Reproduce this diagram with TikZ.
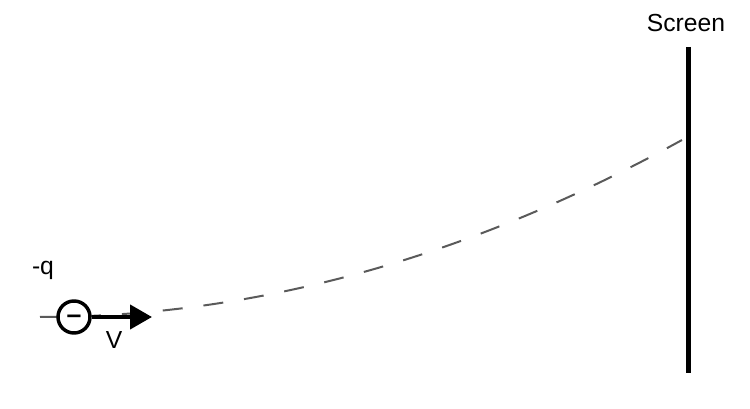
\documentclass[tikz,border=0pt]{standalone}
\usepackage{fontspec}
\setmainfont{Liberation Sans}
\usetikzlibrary{arrows.meta}
\definecolor{pathgray}{RGB}{90,90,90}
\tikzset{
  lbl/.style={font=\fontsize{18.5}{22}\selectfont},
  charge/.style={circle, draw=black, fill=white, line width=2.6pt, inner sep=0pt,
    minimum size=24pt, text height=10.4pt, text depth=0pt,
    font=\fontsize{20}{22}\selectfont\bfseries},
  track/.style={pathgray, line width=1.5pt, dash pattern=on 15pt off 15.75pt}
}

\begin{document}
\begin{tikzpicture}[x=0.75pt, y=-0.75pt]
\useasboundingbox (0,0) rectangle (750,409);
% path of the charge
\coordinate (start) at (40,317);
\coordinate (hit) at (682,140);
\draw[track] (start) .. controls (254,317) and (468,258) .. (hit);
% charge and velocity
\node[charge] (q) at (74,317) {–};
\coordinate (tip) at (152,317);
\draw[line width=3.2pt, -{Triangle[length=16.5pt, width=18pt]}] (q) -- (tip);
\node[lbl] (qlbl) at (43,270) {-q};
\node[lbl] (vlbl) at (114,340) {V};
% screen
\coordinate (scrtop) at (688,47);
\coordinate (scrbot) at (688,373);
\draw[line width=3.75pt] (scrtop) -- (scrbot);
\node[lbl] (scrlbl) at (686,23) {Screen};
\end{tikzpicture}
\end{document}
